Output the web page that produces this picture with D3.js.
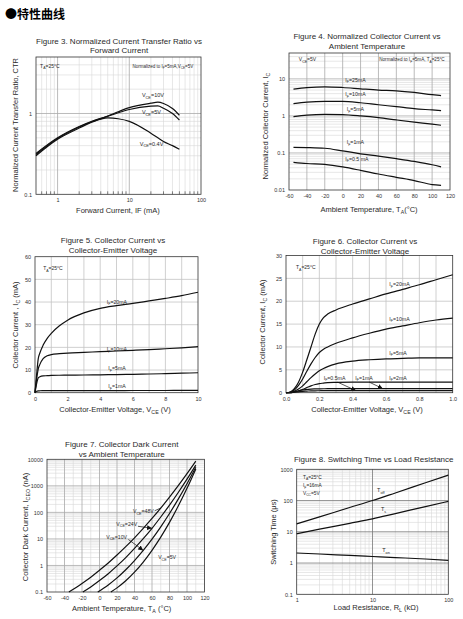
<!DOCTYPE html>
<html>
<head>
<meta charset="utf-8">
<script src="https://d3js.org/d3.v7.min.js"></script>
<style>
  body { margin: 0; background: #fff; }
  svg text { font-family: "Liberation Sans", Arial, sans-serif; fill: #2a2a2a; }
</style>
</head>
<body>
<script>
// ---- Figure 3: CTR vs forward current
var fig3IF = [0.5, 1, 2, 3, 5, 7, 10, 20, 25, 30, 40, 50];
var fig3Vce10 = [0.32, 0.5, 0.69, 0.8, 0.93, 1.05, 1.18, 1.34, 1.38, 1.33, 1.15, 0.95];
var fig3Vce5 = [0.31, 0.49, 0.68, 0.79, 0.92, 1.02, 1.12, 1.23, 1.24, 1.16, 1.0, 0.83];
var fig3Vce04 = [0.30, 0.48, 0.66, 0.78, 0.88, 0.86, 0.8, 0.57, 0.5, 0.45, 0.4, 0.36];

// ---- Figure 4: normalized Ic vs temperature
var fig4T = [-55, -40, -20, 0, 20, 40, 60, 80, 100, 110];
var fig4If25 = [5.3, 5.8, 6.1, 5.85, 5.4, 5.0, 4.75, 4.3, 3.75, 3.55];
var fig4If10 = [2.14, 2.35, 2.47, 2.47, 2.27, 2.0, 1.78, 1.57, 1.45, 1.39];
var fig4If5 = [0.96, 1.05, 1.1, 1.08, 1.0, 0.9, 0.78, 0.68, 0.6, 0.56];
var fig4If1 = [0.142, 0.14, 0.134, 0.114, 0.095, 0.082, 0.07, 0.059, 0.048, 0.042];
var fig4If05 = [0.056, 0.052, 0.049, 0.042, 0.034, 0.027, 0.022, 0.018, 0.014, 0.0134];

// ---- Figure 5: Ic vs Vce (0..10 V)
var fig5V = [0, 0.1, 0.2, 0.3, 0.5, 0.75, 1, 1.5, 2, 3, 4, 5, 6, 7, 8, 9, 10];
var fig5If20 = [0, 8, 15, 17.5, 21, 24, 26.2, 29.5, 32, 35.2, 37.2, 38.4, 39.4, 40.5, 41.6, 42.8, 44.3];
var fig5If10 = [0, 6, 10.5, 12.5, 15, 16.3, 16.8, 17.2, 17.5, 17.8, 18.1, 18.4, 18.7, 19.0, 19.4, 19.8, 20.3];
var fig5If5 = [0, 4, 6.5, 7.0, 7.4, 7.5, 7.6, 7.7, 7.75, 7.8, 7.9, 8.0, 8.1, 8.25, 8.4, 8.6, 8.8];
var fig5If1 = [0, 0.6, 0.8, 0.85, 0.88, 0.9, 0.9, 0.9, 0.92, 0.93, 0.94, 0.95, 0.96, 0.97, 0.98, 0.99, 1.0];

// ---- Figure 6: Ic vs Vce (0..1 V)
var fig6V = [0, 0.025, 0.05, 0.075, 0.1, 0.125, 0.15, 0.175, 0.2, 0.225, 0.25, 0.3, 0.4, 0.5, 0.6, 0.7, 0.8, 0.9, 1.0];
var fig6If20 = [0, 0.15, 0.9, 2.3, 4.5, 7.2, 10, 12.8, 15, 16.4, 17.2, 18.1, 19.4, 20.5, 21.6, 22.6, 23.6, 24.7, 25.8];
var fig6If10 = [0, 0.1, 0.6, 1.6, 3.0, 4.7, 6.3, 7.7, 8.8, 9.5, 10.0, 10.8, 12.0, 13.0, 13.9, 14.6, 15.3, 15.9, 16.3];
var fig6If5 = [0, 0.05, 0.3, 0.8, 1.5, 2.4, 3.3, 4.1, 4.8, 5.3, 5.7, 6.3, 6.9, 7.2, 7.4, 7.5, 7.6, 7.6, 7.6];
var fig6If2 = [0, 0.02, 0.15, 0.4, 0.7, 1.1, 1.5, 1.8, 2.0, 2.1, 2.2, 2.25, 2.3, 2.3, 2.3, 2.3, 2.3, 2.3, 2.3];
var fig6If1 = [0, 0.01, 0.2, 0.4, 0.6, 0.7, 0.8, 0.83, 0.85, 0.86, 0.87, 0.88, 0.88, 0.89, 0.89, 0.9, 0.9, 0.9, 0.9];
var fig6If05 = [0, 0.01, 0.1, 0.2, 0.3, 0.35, 0.4, 0.42, 0.43, 0.44, 0.44, 0.45, 0.45, 0.45, 0.45, 0.45, 0.45, 0.45, 0.45];

// ---- Figure 7: dark current vs temperature
var fig7T48 = [-35, -20, -10, 0, 10, 20, 30, 40, 50, 60, 70, 80, 90, 100, 110];
var fig7Vce48 = [0.1, 0.21, 0.36, 0.66, 1.24, 2.47, 5.1, 11, 25, 59, 146, 378, 1021, 2884, 8500];
var fig7T24 = [-19, -10, 0, 10, 20, 30, 40, 50, 60, 70, 80, 90, 100, 110];
var fig7Vce24 = [0.1, 0.155, 0.27, 0.49, 0.96, 1.98, 4.4, 10.2, 25, 67, 188, 561, 1782, 6000];
var fig7T10 = [-2, 10, 20, 30, 40, 50, 60, 70, 80, 90, 100, 110];
var fig7Vce10 = [0.1, 0.185, 0.34, 0.69, 1.53, 3.7, 9.8, 28.6, 91, 315, 1200, 5000];
var fig7T5 = [13, 20, 30, 40, 50, 60, 70, 80, 90, 100, 110];
var fig7Vce5 = [0.1, 0.143, 0.265, 0.56, 1.35, 3.73, 11.7, 42, 173, 805, 4300];

// ---- Figure 8: switching time vs load resistance
var fig8R = [1, 2, 5, 10, 20, 50, 100];
var fig8Toff = [18, 30, 60, 100, 175, 370, 650];
var fig8Ts = [8.7, 12.1, 18.7, 26, 38.3, 63.8, 94];
var fig8Ton = [2.1, 1.95, 1.75, 1.62, 1.5, 1.35, 1.22];

var svg = d3.select("body").append("svg").attr("width", 463).attr("height", 619);

svg.append("text")
    .attr("x", 5).attr("y", 19)
    .attr("font-size", 12).attr("font-weight", "bold")
    .style("font-family", "'Noto Sans CJK SC', sans-serif")
    .style("fill", "#000")
    .text("●特性曲线");

// text with _{sub} parts
function rich(t, str) {
    var fs = +t.attr("font-size"), down = 0;
    str.split(/(_\{[^}]*\})/).forEach(function (p) {
        if (!p) return;
        if (p[0] === "_") {
            t.append("tspan").attr("font-size", fs * 0.7).attr("dy", fs * 0.3 - down).text(p.slice(2, -1));
            down = fs * 0.3;
        } else {
            t.append("tspan").attr("dy", -down).text(p);
            down = 0;
        }
    });
    return t;
}

function panel(c) {
    var g = svg.append("g"), x = c.x, y = c.y;
    var x0 = x.range()[0], x1 = x.range()[1], y0 = y.range()[0], y1 = y.range()[1];
    function vl(vals, col, w) {
        g.selectAll(null).data(vals).enter().append("line")
            .attr("x1", d => x(d)).attr("x2", d => x(d)).attr("y1", y0).attr("y2", y1)
            .attr("stroke", col).attr("stroke-width", w);
    }
    function hl(vals, col, w) {
        g.selectAll(null).data(vals).enter().append("line")
            .attr("y1", d => y(d)).attr("y2", d => y(d)).attr("x1", x0).attr("x2", x1)
            .attr("stroke", col).attr("stroke-width", w);
    }
    vl(c.vMinor || [], "#d6d6d6", 0.6);
    hl(c.hMinor || [], "#d6d6d6", 0.6);
    vl(c.vMajor || [], c.majorColor || "#aaa", 0.8);
    hl(c.hMajor || [], c.majorColor || "#aaa", 0.8);
    g.append("rect")
        .attr("x", x0).attr("y", y1).attr("width", x1 - x0).attr("height", y0 - y1)
        .attr("fill", "none").attr("stroke", "#333").attr("stroke-width", 0.8);

    var ax = g.append("g").attr("transform", "translate(0," + y0 + ")")
        .call(d3.axisBottom(x).tickValues(c.xTicks).tickFormat(c.xFmt).tickSize(0).tickPadding(4));
    var ay = g.append("g").attr("transform", "translate(" + x0 + ",0)")
        .call(d3.axisLeft(y).tickValues(c.yTicks).tickFormat(c.yFmt).tickSize(0).tickPadding(4));
    [ax, ay].forEach(function (a) {
        a.select(".domain").remove();
        a.selectAll("text").attr("font-size", 5.5).style("font-family", "'Liberation Sans', Arial, sans-serif").style("fill", "#333");
    });
    if (c.xMinorTicks) {
        g.selectAll(null).data(c.xMinorTicks).enter().append("line")
            .attr("x1", d => x(d)).attr("x2", d => x(d)).attr("y1", y0).attr("y2", y0 - 3)
            .attr("stroke", "#333").attr("stroke-width", 0.6);
    }
    return { g: g, x: x, y: y };
}

function curve(p, xs, ys, w) {
    p.g.append("path")
        .datum(xs.map(function (d, i) { return [d, ys[i]]; }))
        .attr("fill", "none").attr("stroke", "#111").attr("stroke-width", w || 1.2)
        .attr("stroke-linejoin", "round")
        .attr("d", d3.line().x(d => p.x(d[0])).y(d => p.y(d[1])).curve(d3.curveMonotoneX));
}

function note(p, xv, yv, str, size, anchor) {
    var t = p.g.append("text").attr("x", p.x(xv)).attr("y", p.y(yv))
        .attr("font-size", size || 5.5).attr("text-anchor", anchor || "start");
    return rich(t, str);
}

function arrow(p, a, b) {
    p.g.append("line")
        .attr("x1", p.x(a[0])).attr("y1", p.y(a[1])).attr("x2", p.x(b[0])).attr("y2", p.y(b[1]))
        .attr("stroke", "#111").attr("stroke-width", 0.7).attr("marker-end", "url(#ah)");
}

svg.append("defs").append("marker")
    .attr("id", "ah").attr("viewBox", "0 -3 6 6").attr("refX", 6).attr("refY", 0)
    .attr("markerWidth", 5).attr("markerHeight", 5).attr("markerUnits", "userSpaceOnUse")
    .attr("orient", "auto")
    .append("path").attr("d", "M0,-3L6,0L0,3Z").attr("fill", "#111");

function titles(cx, ys, lines) {
    lines.forEach(function (s, i) {
        svg.append("text").attr("x", cx).attr("y", ys[i]).attr("font-size", 8)
            .attr("text-anchor", "middle").text(s);
    });
}
function xLabel(cx, y, str) {
    rich(svg.append("text").attr("x", cx).attr("y", y).attr("font-size", 7.5).attr("text-anchor", "middle"), str);
}
function yLabel(x, cy, str) {
    rich(svg.append("text").attr("transform", "translate(" + x + "," + cy + ") rotate(-90)")
        .attr("font-size", 7.5).attr("text-anchor", "middle"), str);
}

function decadeMinors(lo, hi) {
    var out = [];
    for (var d = lo; d < hi; d *= 10)
        for (var k = 2; k <= 9; k++) out.push(d * k);
    return out;
}
var fmtPlain = function (d) { return String(d); };

// ===== Figure 3 =====
var p3 = panel({
    x: d3.scaleLog().domain([0.5, 100]).range([36, 201]),
    y: d3.scaleLog().domain([0.1, 5]).range([194.3, 57]),
    vMajor: [1, 10], vMinor: decadeMinors(0.1, 100).filter(d => d > 0.5 && d < 100 && d !== 1 && d !== 10),
    hMajor: [1], hMinor: decadeMinors(0.1, 10).filter(d => d < 5),
    xTicks: [1, 10, 100], xFmt: fmtPlain, yTicks: [0.1, 1], yFmt: fmtPlain,
    xMinorTicks: decadeMinors(0.1, 100).filter(d => d > 0.5 && d < 100)
});
curve(p3, fig3IF, fig3Vce10);
curve(p3, fig3IF, fig3Vce5);
curve(p3, fig3IF, fig3Vce04);
note(p3, 0.57, 3.7, "T_{A}=25°C", 5);
note(p3, 78, 3.7, "Normalized to I_{F}=5mA,V_{CE}=5V", 4.5, "end");
note(p3, 15, 1.6, "V_{CE}=10V", 5.5);
note(p3, 15, 0.98, "V_{CE}=5V", 5.5);
note(p3, 14, 0.4, "V_{CE}=0.4V", 5.5);
titles(119, [43.5, 53], ["Figure 3. Normalized Current Transfer Ratio vs", "Forward Current"]);
yLabel(17.5, 125, "Normalized Current Transfer Ratio, CTR");
xLabel(118, 213, "Forward Current, IF (mA)");

// ===== Figure 4 =====
var p4 = panel({
    x: d3.scaleLinear().domain([-60, 120]).range([289, 450]),
    y: d3.scaleLog().domain([0.01, 50]).range([190, 53]),
    vMajor: d3.range(-40, 120, 20),
    hMajor: [0.1, 1, 10], hMinor: decadeMinors(0.01, 100).filter(d => d < 50),
    xTicks: d3.range(-60, 121, 20), xFmt: fmtPlain, yTicks: [0.01, 0.1, 1, 10], yFmt: fmtPlain
});
curve(p4, fig4T, fig4If25);
curve(p4, fig4T, fig4If10);
curve(p4, fig4T, fig4If5);
curve(p4, fig4T, fig4If1);
curve(p4, fig4T, fig4If05);
note(p4, -49, 30, "V_{CE}=5V", 5);
note(p4, 114, 30, "Normalized to I_{F}=5mA, T_{A}=25°C", 4.6, "end");
note(p4, 3, 8.5, "I_{F}=25mA", 5.2);
note(p4, 3, 3.45, "I_{F}=10mA", 5.2);
note(p4, 4.5, 1.36, "I_{F}=5mA", 5.2);
note(p4, 4.5, 0.175, "I_{F}=1mA", 5.2);
note(p4, 3, 0.061, "I_{F}=0.5 mA", 5.2);
titles(367, [39, 48.5], ["Figure 4. Normalized Collector Current vs", "Ambient Temperature"]);
yLabel(267.5, 126, "Normalized Collector Current, I_{C}");
xLabel(369, 211.5, "Ambient Temperature, T_{A}(°C)");

// ===== Figure 5 =====
var p5 = panel({
    x: d3.scaleLinear().domain([0, 10]).range([35, 198]),
    y: d3.scaleLinear().domain([0, 60]).range([392.7, 256.7]),
    vMajor: d3.range(1, 10, 1), hMajor: d3.range(10, 60, 10), majorColor: "#c4c4c4",
    xTicks: d3.range(0, 11, 2), xFmt: fmtPlain, yTicks: d3.range(0, 61, 10), yFmt: fmtPlain
});
curve(p5, fig5V, fig5If20);
curve(p5, fig5V, fig5If10);
curve(p5, fig5V, fig5If5);
curve(p5, fig5V, fig5If1);
note(p5, 0.5, 54, "T_{A}=25°C", 5);
note(p5, 4.4, 39.3, "I_{F}=20mA", 5.2);
note(p5, 4.4, 18.4, "I_{F}=10mA", 5.2);
note(p5, 4.5, 10, "I_{F}=5mA", 5.2);
note(p5, 4.5, 2.1, "I_{F}=1mA", 5.2);
titles(113, [243, 252.5], ["Figure 5. Collector Current vs", "Collector-Emitter  Voltage"]);
yLabel(17.5, 325, "Collector Current , I_{C} (mA)");
xLabel(115, 411.5, "Collector-Emitter Voltage, V_{CE} (V)");

// ===== Figure 6 =====
var p6 = panel({
    x: d3.scaleLinear().domain([0, 1]).range([286, 452.7]),
    y: d3.scaleLinear().domain([0, 30]).range([392.7, 255.5]),
    vMajor: d3.range(1, 10).map(d => d / 10), hMajor: d3.range(5, 30, 5), majorColor: "#c4c4c4",
    xTicks: d3.range(0, 6).map(d => d / 5), xFmt: d3.format(".1f"), yTicks: d3.range(0, 31, 5), yFmt: fmtPlain
});
curve(p6, fig6V, fig6If20);
curve(p6, fig6V, fig6If10);
curve(p6, fig6V, fig6If5);
curve(p6, fig6V, fig6If2);
curve(p6, fig6V, fig6If1);
curve(p6, fig6V, fig6If05);
note(p6, 0.06, 27, "T_{A}=25°C", 5);
note(p6, 0.62, 23.3, "I_{F}=20mA", 5.2);
note(p6, 0.62, 15.7, "I_{F}=10mA", 5.2);
note(p6, 0.62, 8.3, "I_{F}=5mA", 5.2);
note(p6, 0.226, 2.8, "I_{F}=0.5mA", 5.2);
note(p6, 0.416, 2.8, "I_{F}=1mA", 5.2);
note(p6, 0.62, 2.8, "I_{F}=2mA", 5.2);
arrow(p6, [0.31, 2.3], [0.42, 0.45]);
arrow(p6, [0.5, 2.3], [0.58, 0.9]);
titles(365, [244, 253.5], ["Figure 6. Collector Current vs", "Collector-Emitter Voltage"]);
yLabel(264.5, 322, "Collector Current, I_{C} (mA)");
xLabel(367, 411.5, "Collector-Emitter Voltage, V_{CE} (V)");

// ===== Figure 7 =====
var p7 = panel({
    x: d3.scaleLinear().domain([-60, 120]).range([47, 204.5]),
    y: d3.scaleLog().domain([0.1, 10000]).range([592, 459.3]),
    vMinor: d3.range(-50, 120, 20), vMajor: d3.range(-40, 120, 20),
    hMajor: [1, 10, 100, 1000], hMinor: decadeMinors(0.1, 10000),
    xTicks: d3.range(-60, 121, 20), xFmt: fmtPlain, yTicks: [0.1, 1, 10, 100, 1000, 10000], yFmt: fmtPlain
});
curve(p7, fig7T48, fig7Vce48);
curve(p7, fig7T24, fig7Vce24);
curve(p7, fig7T10, fig7Vce10);
curve(p7, fig7T5, fig7Vce5);
note(p7, 62, 95, "V_{CE}=48V", 5.2, "end");
p7.g.append("line").attr("x1", p7.x(63)).attr("y1", p7.y(115)).attr("x2", p7.x(70)).attr("y2", p7.y(146))
    .attr("stroke", "#111").attr("stroke-width", 0.7);
note(p7, 43, 31, "V_{CE}=24V", 5.2, "end");
arrow(p7, [44, 30], [60, 25]);
note(p7, 31.5, 10, "V_{CE}=10V", 5.2, "end");
arrow(p7, [33, 9.5], [50, 3.7]);
note(p7, 67, 1.7, "V_{CE}=5V", 5.2);
titles(121.7, [447, 456.5], ["Figure 7. Collector Dark Current", "vs Ambient Temperature"]);
yLabel(27.5, 527, "Collector Dark Current, I_{CEO} (nA)");
xLabel(121.7, 611, "Ambient Temperature, T_{A} (°C)");

// ===== Figure 8 =====
var p8 = panel({
    x: d3.scaleLog().domain([1, 100]).range([296.7, 448.3]),
    y: d3.scaleLog().domain([0.1, 1000]).range([594.3, 469.3]),
    vMajor: [10], vMinor: decadeMinors(1, 100),
    hMajor: [1, 10, 100], hMinor: decadeMinors(0.1, 1000), majorColor: "#777",
    xTicks: [1, 10, 100], xFmt: fmtPlain, yTicks: [0.1, 1, 10, 100, 1000], yFmt: fmtPlain
});
curve(p8, fig8R, fig8Toff);
curve(p8, fig8R, fig8Ts);
curve(p8, fig8R, fig8Ton);
note(p8, 1.21, 490, "T_{A}=25°C", 4.8);
note(p8, 1.21, 270, "I_{F}=16mA", 4.8);
note(p8, 1.21, 150, "V_{CC}=5V", 4.8);
note(p8, 11.5, 187, "T_{off}", 5.5);
note(p8, 12.9, 46, "T_{s}", 5.5);
note(p8, 13.4, 2.25, "T_{on}", 5.5);
titles(373.7, [462], ["Figure 8. Switching Time vs Load Resistance"]);
yLabel(276, 532, "Switching Time (μs)");
xLabel(376, 610, "Load Resistance, R_{L} (kΩ)");
</script>
</body>
</html>
